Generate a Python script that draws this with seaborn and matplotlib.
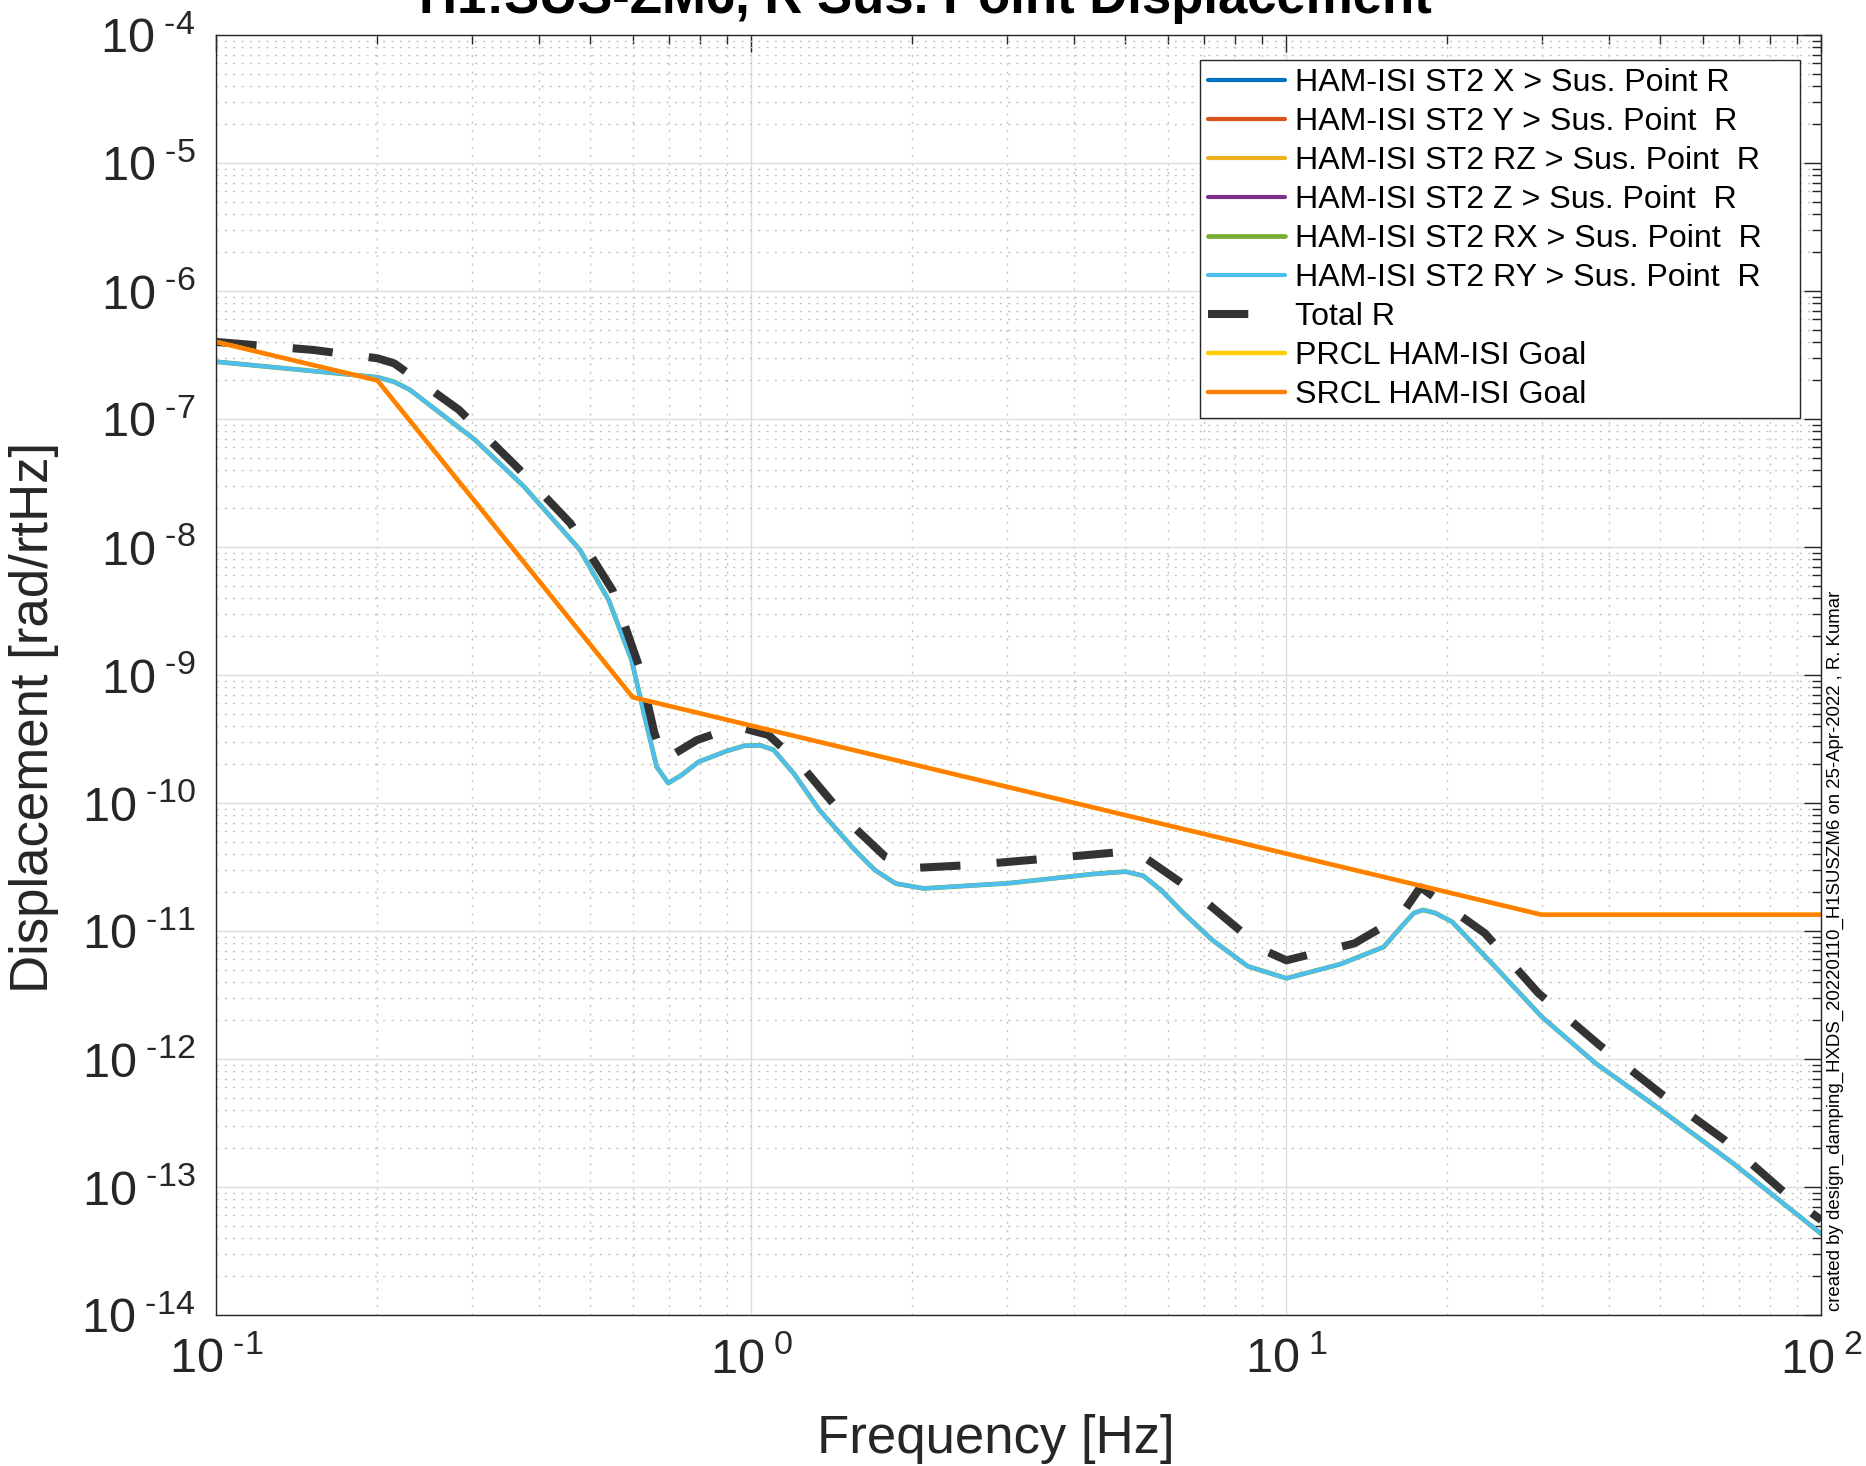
import numpy as np
import pandas as pd
import matplotlib.pyplot as plt
import matplotlib.ticker as mticker
import seaborn as sns

# Spectres : fréquence [Hz], déplacement [rad/rtHz]
ry_freq = [0.1, 0.2, 0.215, 0.23, 0.304, 0.376, 0.478, 0.541, 0.597, 0.632, 0.665,
           0.699, 0.74, 0.797, 0.9, 0.97, 1.04, 1.1, 1.2, 1.34, 1.56, 1.7, 1.86,
           2.1, 3.02, 4.4, 5.0, 5.4, 5.83, 6.4, 7.27, 8.47, 10.0, 12.6, 15.2,
           16.4, 17.3, 18.0, 19.0, 20.4, 24.5, 30.0, 37.9, 50.1, 68.4, 100.0]
ry_disp = [2.8e-7, 2.12e-7, 1.95e-7, 1.69e-7, 6.9e-8, 2.96e-8, 9.5e-9, 3.85e-9,
           1.31e-9, 4.7e-10, 1.92e-10, 1.43e-10, 1.65e-10, 2.1e-10, 2.55e-10,
           2.8e-10, 2.82e-10, 2.6e-10, 1.7e-10, 8.8e-11, 4.3e-11, 3.0e-11,
           2.35e-11, 2.15e-11, 2.36e-11, 2.8e-11, 2.91e-11, 2.7e-11, 2.09e-11,
           1.4e-11, 8.5e-12, 5.3e-12, 4.27e-12, 5.5e-12, 7.5e-12, 1.08e-11,
           1.38e-11, 1.46e-11, 1.38e-11, 1.18e-11, 5.3e-12, 2.14e-12, 9.2e-13,
           4.0e-13, 1.53e-13, 4.3e-14]
# RX est confondu avec RY sur la figure
rx_freq = list(ry_freq)
rx_disp = list(ry_disp)

total_freq = [0.1, 0.152, 0.2, 0.215, 0.284, 0.364, 0.459, 0.55, 0.617, 0.659,
              0.687, 0.791, 0.86, 0.93, 1.076, 1.23, 1.53, 1.78, 1.99, 2.59,
              3.68, 5.0, 5.46, 6.65, 9.06, 10.0, 13.4, 16.3, 17.8, 23.5, 29.6,
              38.5, 50.0, 65.9, 85.7, 100.0]
total_disp = [4.0e-7, 3.46e-7, 2.98e-7, 2.72e-7, 1.18e-7, 4.24e-8, 1.53e-8,
              4.6e-9, 1.16e-9, 3.5e-10, 2.17e-10, 3.1e-10, 3.5e-10, 4.0e-10,
              3.4e-10, 2.04e-10, 6.9e-11, 3.8e-11, 3.1e-11, 3.28e-11, 3.72e-11,
              4.17e-11, 3.7e-11, 2.09e-11, 7.1e-12, 5.9e-12, 8.0e-12, 1.29e-11,
              2.2e-11, 9.6e-12, 3.26e-12, 1.28e-12, 5.4e-13, 2.33e-13, 8.9e-14,
              5.5e-14]

goal_freq = [0.1, 0.2, 0.6, 30.0, 100.0]
srcl_goal = [4.0e-7, 2.0e-7, 6.7e-10, 1.34e-11, 1.34e-11]
prcl_goal = list(srcl_goal)  # caché sous la courbe SRCL

labels = ['HAM-ISI ST2 X > Sus. Point R',
          'HAM-ISI ST2 Y > Sus. Point  R',
          'HAM-ISI ST2 RZ > Sus. Point  R',
          'HAM-ISI ST2 Z > Sus. Point  R',
          'HAM-ISI ST2 RX > Sus. Point  R',
          'HAM-ISI ST2 RY > Sus. Point  R',
          'Total R',
          'PRCL HAM-ISI Goal',
          'SRCL HAM-ISI Goal']
colors = ['#0072BD', '#D95319', '#EDB120', '#7E2F8E', '#77AC30', '#4DBEEE',
          '#333333', '#FFCC00', '#FF8000']

sns.set_theme(style='white')
plt.rcParams['font.family'] = ['Liberation Sans', 'DejaVu Sans']
plt.rcParams['mathtext.fontset'] = 'custom'
plt.rcParams['mathtext.rm'] = 'Liberation Sans'
plt.rcParams['mathtext.it'] = 'Liberation Sans:italic'
plt.rcParams['mathtext.bf'] = 'Liberation Sans:bold'

fig = plt.figure(figsize=(18.66, 14.66), dpi=100)
ax = fig.add_axes([0.11597, 0.10300, 0.97610 - 0.11597, 0.97613 - 0.10300])
ax.set_xscale('log')
ax.set_yscale('log')

# X, Y, RZ, Z restent sous le bas de l'échelle : entrées de légende seulement
for i in range(4):
    ax.plot([], [], color=colors[i], lw=3, label=labels[i])

sns.lineplot(x=rx_freq, y=rx_disp, ax=ax, color=colors[4], lw=3.4,
             sort=False, estimator=None, label=labels[4])
sns.lineplot(x=ry_freq, y=ry_disp, ax=ax, color=colors[5], lw=3.0,
             sort=False, estimator=None, label=labels[5])
sns.lineplot(x=total_freq, y=total_disp, ax=ax, color=colors[6], lw=5.8,
             linestyle=(0, (5.0, 4.5)), sort=False, estimator=None,
             label=labels[6])
sns.lineplot(x=goal_freq, y=prcl_goal, ax=ax, color=colors[7], lw=3.2,
             sort=False, estimator=None, label=labels[7])
sns.lineplot(x=goal_freq, y=srcl_goal, ax=ax, color=colors[8], lw=3.2,
             sort=False, estimator=None, label=labels[8])

ax.set_xlim(0.1, 100)
ax.set_ylim(1e-14, 1e-4)

ax.xaxis.set_major_locator(mticker.LogLocator(base=10, numticks=20))
ax.yaxis.set_major_locator(mticker.LogLocator(base=10, numticks=20))
ax.xaxis.set_minor_locator(mticker.LogLocator(base=10, subs=np.arange(2, 10), numticks=50))
ax.yaxis.set_minor_locator(mticker.LogLocator(base=10, subs=np.arange(2, 10), numticks=50))
ax.xaxis.set_minor_formatter(mticker.NullFormatter())
ax.yaxis.set_minor_formatter(mticker.NullFormatter())


def pow10(v, pos):
    e = int(round(np.log10(v)))
    sign = r'\text{-}' if e < 0 else ''
    return r'$10^{\ %s%d}$' % (sign, abs(e))


ax.xaxis.set_major_formatter(mticker.FuncFormatter(pow10))
ax.yaxis.set_major_formatter(mticker.FuncFormatter(pow10))

ax.grid(which='major', color='#dedede', linestyle='-', linewidth=1.0)
ax.grid(which='minor', color='#c4c4c4', linestyle=(0, (1.5, 4.5)), linewidth=1.0)
ax.set_axisbelow(True)

for s in ax.spines.values():
    s.set_color('#262626')
    s.set_linewidth(1.0)
ax.tick_params(which='both', direction='in', top=True, right=True,
               color='#262626', width=1.0)
ax.tick_params(which='major', length=12, labelsize=35, labelcolor='#262626')
ax.tick_params(which='minor', length=6.5)
ax.tick_params(axis='y', which='major', pad=15)
ax.tick_params(axis='x', which='major', pad=16)

ax.set_xlabel('Frequency [Hz]', fontsize=38, color='#262626')
ax.set_ylabel('Displacement [rad/rtHz]', fontsize=38, color='#262626')
ax.xaxis.label.set_va('baseline')
ax.xaxis.set_label_coords(0.4857, -0.1078)
ax.yaxis.label.set_va('center')
ax.yaxis.set_label_coords(-0.1137, 0.467)

handles, labs = ax.get_legend_handles_labels()
leg = ax.legend(handles, labs, loc='upper left', mode='expand',
                bbox_to_anchor=(0.6128, 0.9805, 0.3738, 0.0),
                borderaxespad=0, fontsize=23.1, frameon=True, fancybox=False,
                framealpha=1, edgecolor='#262626', handlelength=2.4,
                handletextpad=0.31, borderpad=0.25, labelspacing=0.28)
leg.get_frame().set_linewidth(1.0)
for t in leg.get_texts():
    t.set_color('black')
# une seule barre pour le tiret dans la légende
leg.get_lines()[6].set_dashes([5.0, 12.0])

fig.text(0.4957, 0.99113, 'H1:SUS-ZM6, R Sus. Point Displacement',
         ha='center', va='baseline', fontsize=38, fontweight='bold', color='black')
fig.text(0.9837, 0.106,
         'created by design_damping_HXDS_20220110_H1SUSZM6 on 25-Apr-2022 , R. Kumar',
         rotation=90, ha='center', va='bottom', fontsize=13.4, color='black')

fig.savefig('out.png', dpi=100)
